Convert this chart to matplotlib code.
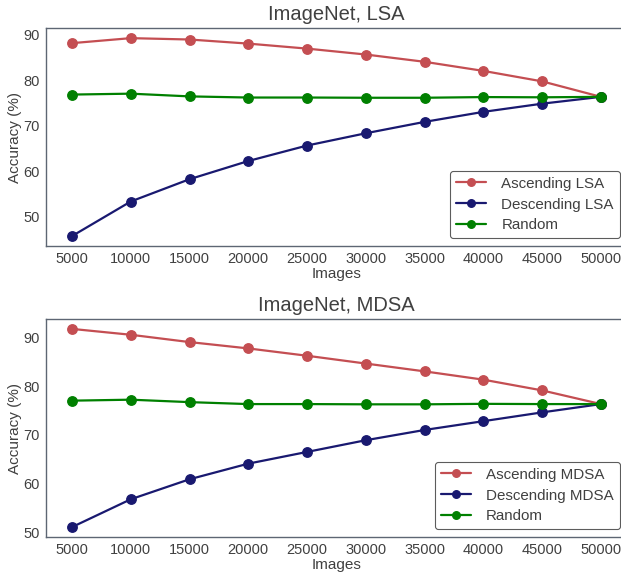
import matplotlib
matplotlib.use("Agg")
import matplotlib.pyplot as plt
import seaborn as sns

images = [5000, 10000, 15000, 20000, 25000, 30000, 35000, 40000, 45000, 50000]

lsa_ascending = [88.2, 89.3, 89.0, 88.1, 87.0, 85.7, 84.1, 82.1, 79.8, 76.4]
lsa_descending = [45.8, 53.4, 58.3, 62.3, 65.7, 68.4, 70.9, 73.1, 74.9, 76.4]
lsa_random = [76.9, 77.1, 76.5, 76.25, 76.25, 76.2, 76.2, 76.35, 76.3, 76.4]

mdsa_ascending = [91.7, 90.5, 89.0, 87.7, 86.2, 84.6, 83.0, 81.3, 79.1, 76.3]
mdsa_descending = [51.1, 56.8, 60.9, 64.1, 66.5, 68.9, 71.0, 72.8, 74.6, 76.3]
mdsa_random = [77.0, 77.2, 76.7, 76.3, 76.3, 76.25, 76.25, 76.35, 76.3, 76.3]

sns.set_style("white")
plt.rcParams['font.family'] = ['Liberation Sans', 'DejaVu Sans']
text_col = '#404040'
spine_col = '#5d6673'

fig = plt.figure(figsize=(6.21, 5.73), dpi=100)
ax1 = fig.add_axes([0.0733, 0.5707, 0.937, 0.380])
ax2 = fig.add_axes([0.0733, 0.0628, 0.937, 0.3805])

panels = [
    (ax1, "ImageNet, LSA", "LSA", lsa_ascending, lsa_descending, lsa_random),
    (ax2, "ImageNet, MDSA", "MDSA", mdsa_ascending, mdsa_descending, mdsa_random),
]

for ax, title, name, asc, desc, rnd in panels:
    ax.plot(images, asc, color='#c44e52', marker='o', markersize=6.8, lw=1.6,
            label='Ascending ' + name)
    ax.plot(images, desc, color='#191970', marker='o', markersize=6.8, lw=1.6,
            label='Descending ' + name)
    ax.plot(images, rnd, color='green', marker='o', markersize=6.8, lw=1.6,
            label='Random')
    ax.set_xticks(images)
    ax.set_xticklabels([str(v) for v in images])
    ax.tick_params(labelsize=10.5, colors=text_col, length=0, pad=4)
    ax.set_title(title, fontsize=14.5, color=text_col, pad=6)
    ax.set_xlabel("Images", fontsize=11, color=text_col, labelpad=1)
    ax.set_ylabel("Accuracy (%)", fontsize=11, color=text_col, labelpad=1)
    for s in ax.spines.values():
        s.set_color(spine_col)
        s.set_linewidth(1.0)
    leg = ax.legend(loc='lower right', fontsize=10.9, frameon=True,
                    fancybox=True, borderaxespad=0.5, markerscale=0.8,
                    handletextpad=1.0, labelspacing=0.45)
    leg.get_frame().set_edgecolor('#333333')
    leg.get_frame().set_linewidth(0.8)
    for t in leg.get_texts():
        t.set_color(text_col)

fig.savefig("out.png", dpi=100)
